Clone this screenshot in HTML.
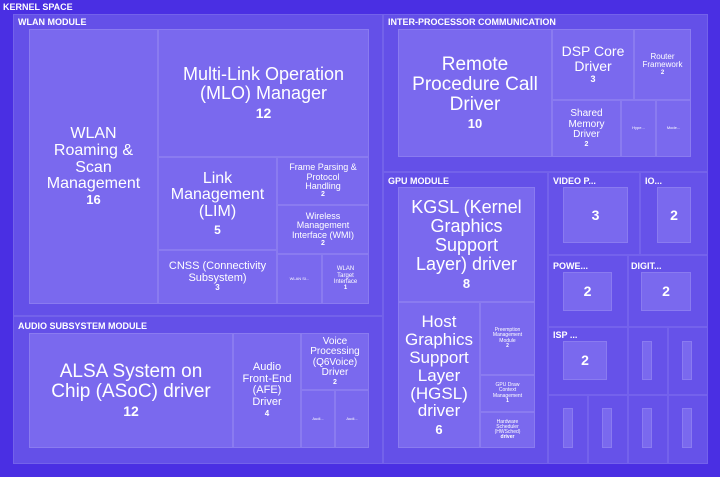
<!DOCTYPE html>
<html><head><meta charset="utf-8"><style>
body{margin:0;width:720px;height:477px;background:#4a2fe3;position:relative;overflow:hidden;font-family:"Liberation Sans",sans-serif;color:#fff}
.b{position:absolute;box-sizing:border-box}
.m{background:#6450e8;border:1px solid #7362ea}
.l{background:#7a69ee;border:1px solid #8a7bf0;display:flex;flex-direction:column;align-items:center;justify-content:center;text-align:center;line-height:1.05}
.s{background:#6652e9;border:1px solid #7462ec}
.lab{position:absolute;font-size:9px;font-weight:bold;white-space:nowrap}
.n{font-weight:bold}
</style></head><body>
<div class="lab" style="left:3px;top:2px">KERNEL SPACE</div>
<div class="b" style="left:13px;top:14px;width:695px;height:450px;background:#5f4ae7"></div>

<div class="b m" style="left:13px;top:14px;width:370px;height:302px"></div>
<div class="lab" style="left:18px;top:17px">WLAN MODULE</div>
<div class="b l" style="left:29px;top:29px;width:129px;height:275px;font-size:16px">WLAN<br>Roaming &amp;<br>Scan<br>Management<div class="n" style="font-size:13px">16</div></div>
<div class="b l" style="left:158px;top:29px;width:211px;height:128px;font-size:18px">Multi-Link Operation<br>(MLO) Manager<div class="n" style="font-size:14px;margin-top:3px">12</div></div>
<div class="b l" style="left:158px;top:157px;width:119px;height:93px;font-size:16px">Link<br>Management<br>(LIM)<div class="n" style="font-size:12px;margin-top:3px">5</div></div>
<div class="b l" style="left:158px;top:250px;width:119px;height:54px;font-size:11px">CNSS (Connectivity<br>Subsystem)<div class="n" style="font-size:8px">3</div></div>
<div class="b l" style="left:277px;top:157px;width:92px;height:48px;font-size:9px">Frame Parsing &amp;<br>Protocol<br>Handling<div class="n" style="font-size:7px">2</div></div>
<div class="b l" style="left:277px;top:205px;width:92px;height:49px;font-size:9px">Wireless<br>Management<br>Interface (WMI)<div class="n" style="font-size:7px">2</div></div>
<div class="b l" style="left:277px;top:254px;width:45px;height:50px;font-size:4px">WLAN SI...</div>
<div class="b l" style="left:322px;top:254px;width:47px;height:50px;font-size:6px">WLAN<br>Target<br>Interface<div class="n">1</div></div>

<div class="b m" style="left:13px;top:316px;width:370px;height:148px"></div>
<div class="lab" style="left:18px;top:321px">AUDIO SUBSYSTEM MODULE</div>
<div class="b l" style="left:29px;top:333px;width:204px;height:115px;font-size:19px">ALSA System on<br>Chip (ASoC) driver<div class="n" style="font-size:14px;margin-top:2px">12</div></div>
<div class="b l" style="left:233px;top:333px;width:68px;height:115px;font-size:11px">Audio<br>Front-End<br>(AFE)<br>Driver<div class="n" style="font-size:8px;margin-top:2px">4</div></div>
<div class="b l" style="left:301px;top:333px;width:68px;height:57px;font-size:10px">Voice<br>Processing<br>(Q6Voice)<br>Driver<div class="n" style="font-size:7px">2</div></div>
<div class="b l" style="left:301px;top:390px;width:34px;height:58px;font-size:4px">Audi...</div>
<div class="b l" style="left:335px;top:390px;width:34px;height:58px;font-size:4px">Audi...</div>

<div class="b m" style="left:383px;top:14px;width:325px;height:158px"></div>
<div class="lab" style="left:388px;top:17px">INTER-PROCESSOR COMMUNICATION</div>
<div class="b l" style="left:398px;top:29px;width:154px;height:128px;font-size:19px">Remote<br>Procedure Call<br>Driver<div class="n" style="font-size:13px;margin-top:2px">10</div></div>
<div class="b l" style="left:552px;top:29px;width:82px;height:71px;font-size:14px">DSP Core<br>Driver<div class="n" style="font-size:9px;margin-top:2px">3</div></div>
<div class="b l" style="left:634px;top:29px;width:57px;height:71px;font-size:8px">Router<br>Framework<div class="n" style="font-size:6px">2</div></div>
<div class="b l" style="left:552px;top:100px;width:69px;height:57px;font-size:10px">Shared<br>Memory<br>Driver<div class="n" style="font-size:7px">2</div></div>
<div class="b l" style="left:621px;top:100px;width:35px;height:57px;font-size:4px">Hype...</div>
<div class="b l" style="left:656px;top:100px;width:35px;height:57px;font-size:4px">Mode...</div>

<div class="b m" style="left:383px;top:172px;width:165px;height:292px"></div>
<div class="lab" style="left:388px;top:176px">GPU MODULE</div>
<div class="b l" style="left:398px;top:187px;width:137px;height:115px;font-size:18px">KGSL (Kernel<br>Graphics<br>Support<br>Layer) driver<div class="n" style="font-size:13px;margin-top:3px">8</div></div>
<div class="b l" style="left:398px;top:302px;width:82px;height:146px;font-size:17px">Host<br>Graphics<br>Support<br>Layer<br>(HGSL)<br>driver<div class="n" style="font-size:13px;margin-top:3px">6</div></div>
<div class="b l" style="left:480px;top:302px;width:55px;height:73px;font-size:5px">Preemption<br>Management<br>Module<div class="n">2</div></div>
<div class="b l" style="left:480px;top:375px;width:55px;height:37px;font-size:5px">GPU Draw<br>Context<br>Management<div class="n">1</div></div>
<div class="b l" style="left:480px;top:412px;width:55px;height:36px;font-size:5px">Hardware<br>Scheduler<br>(HWSched)<div class="n">driver</div></div>

<div class="b s" style="left:548px;top:172px;width:92px;height:83px"></div>
<div class="lab" style="left:553px;top:176px">VIDEO P...</div>
<div class="b l" style="left:563px;top:187px;width:65px;height:56px;font-size:14px"><span class="n">3</span></div>
<div class="b s" style="left:640px;top:172px;width:68px;height:83px"></div>
<div class="lab" style="left:645px;top:176px">IO...</div>
<div class="b l" style="left:657px;top:187px;width:34px;height:56px;font-size:14px"><span class="n">2</span></div>
<div class="b s" style="left:548px;top:255px;width:80px;height:72px"></div>
<div class="lab" style="left:553px;top:261px">POWE...</div>
<div class="b l" style="left:563px;top:272px;width:49px;height:39px;font-size:14px"><span class="n">2</span></div>
<div class="b s" style="left:628px;top:255px;width:80px;height:72px"></div>
<div class="lab" style="left:631px;top:261px">DIGIT...</div>
<div class="b l" style="left:641px;top:272px;width:50px;height:39px;font-size:14px"><span class="n">2</span></div>
<div class="b s" style="left:548px;top:327px;width:80px;height:68px"></div>
<div class="lab" style="left:553px;top:330px">ISP ...</div>
<div class="b l" style="left:563px;top:341px;width:44px;height:39px;font-size:14px"><span class="n">2</span></div>
<div class="b s" style="left:628px;top:327px;width:40px;height:68px"></div>
<div class="b l" style="left:642px;top:341px;width:10px;height:39px"></div>
<div class="b s" style="left:668px;top:327px;width:40px;height:68px"></div>
<div class="b l" style="left:682px;top:341px;width:10px;height:39px"></div>
<div class="b s" style="left:548px;top:395px;width:40px;height:69px"></div>
<div class="b l" style="left:563px;top:408px;width:10px;height:40px"></div>
<div class="b s" style="left:588px;top:395px;width:40px;height:69px"></div>
<div class="b l" style="left:602px;top:408px;width:10px;height:40px"></div>
<div class="b s" style="left:628px;top:395px;width:40px;height:69px"></div>
<div class="b l" style="left:642px;top:408px;width:10px;height:40px"></div>
<div class="b s" style="left:668px;top:395px;width:40px;height:69px"></div>
<div class="b l" style="left:682px;top:408px;width:10px;height:40px"></div>
</body></html>
